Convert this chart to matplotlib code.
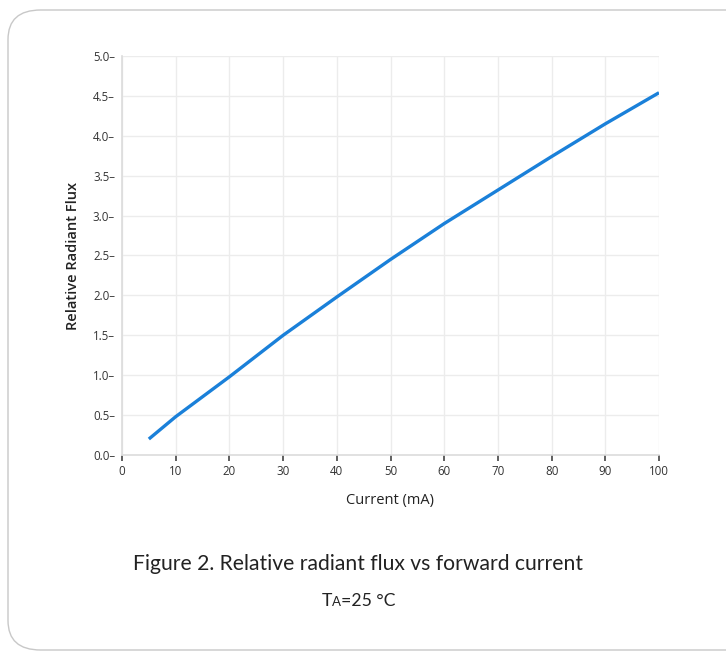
import matplotlib.pyplot as plt
from matplotlib.patches import FancyBboxPatch
from matplotlib.ticker import FuncFormatter
from matplotlib.transforms import offset_copy

# Data
current_ma = [5, 10, 20, 30, 40, 50, 60, 70, 80, 90, 100]
rel_flux = [0.2, 0.48, 0.98, 1.5, 1.98, 2.45, 2.90, 3.32, 3.74, 4.15, 4.54]
x_ticks = [0, 10, 20, 30, 40, 50, 60, 70, 80, 90, 100]
y_ticks = [0.0, 0.5, 1.0, 1.5, 2.0, 2.5, 3.0, 3.5, 4.0, 4.5, 5.0]

fig = plt.figure(figsize=(7.26, 6.56), dpi=100)

# rounded card border
card = FancyBboxPatch((8 / 726, 1 - 650 / 656), 760 / 726, 640 / 656,
                      boxstyle="round,pad=0,rounding_size=0.045",
                      transform=fig.transFigure, facecolor="white",
                      edgecolor="#c8c8c8", linewidth=1.0, zorder=-5)
fig.patches.append(card)

ax = fig.add_axes([122 / 726, 1 - 455 / 656, 537 / 726, 399 / 656])
ax.set_facecolor("white")
ax.plot(current_ma, rel_flux, color="#1a80d9", linewidth=2.4,
        solid_capstyle="butt", zorder=3)

ax.set_xlim(0, 100)
ax.set_ylim(0, 5)
ax.set_xticks(x_ticks)
ax.set_yticks(y_ticks)
ax.yaxis.set_major_formatter(FuncFormatter(lambda v, p: f"{v:.1f}\u2013"))
ax.grid(True, color="#ececec", linewidth=1.0)
ax.set_axisbelow(True)

for side in ["top", "right"]:
    ax.spines[side].set_visible(False)
for side in ["left", "bottom"]:
    ax.spines[side].set_color("#dcdcdc")
    ax.spines[side].set_linewidth(1.2)

ax.tick_params(axis="y", length=0, pad=5, labelsize=8.3, labelcolor="#333333")
ax.tick_params(axis="x", length=4, width=1.2, color="#444444", pad=3,
               labelsize=8.3, labelcolor="#333333")
for lbl in ax.get_xticklabels() + ax.get_yticklabels():
    lbl.set_family("Open Sans")

ax.set_xlabel("Current (mA)", fontsize=10.5, family="Open Sans", color="#222222", labelpad=11)
ax.set_ylabel("Relative Radiant Flux", fontsize=10.5, family="Open Sans",
              fontweight="semibold", color="#222222", labelpad=9)

fig.text(358 / 726, 1 - 564 / 656, "Figure 2. Relative radiant flux vs forward current",
         ha="center", va="center", fontsize=15.2, family="Lato", color="#222222")

# "TA=25 °C" with a small-cap A on the same baseline
x0, yb = 322 / 726, 1 - 606 / 656
t1 = fig.text(x0, yb, "T", ha="left", va="baseline", fontsize=12.7,
              family="Lato", color="#222222")
fig.canvas.draw()
r = fig.canvas.get_renderer()
w1 = t1.get_window_extent(r).width
t2 = fig.text(x0, yb, "A", ha="left", va="baseline", fontsize=9.5, family="Lato",
              color="#222222",
              transform=offset_copy(fig.transFigure, fig=fig, x=w1, y=0, units="dots"))
w2 = t2.get_window_extent(r).width
fig.text(x0, yb, "=25 \u00b0C", ha="left", va="baseline", fontsize=12.7, family="Lato",
         color="#222222",
         transform=offset_copy(fig.transFigure, fig=fig, x=w1 + w2, y=0, units="dots"))

fig.savefig("out.png", dpi=100, facecolor="white")
